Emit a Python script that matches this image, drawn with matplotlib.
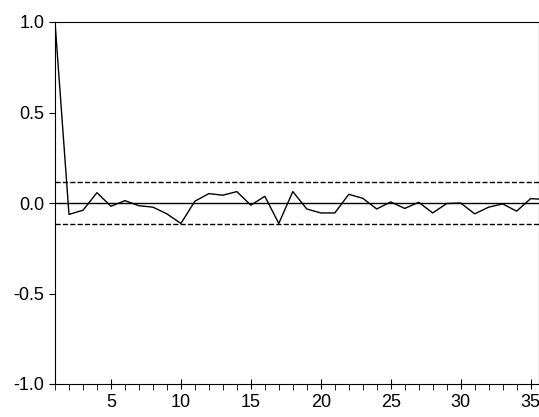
import numpy as np
import matplotlib.pyplot as plt
from matplotlib.ticker import MultipleLocator

plt.rcParams['font.family'] = ['Liberation Sans', 'DejaVu Sans']

lags = np.arange(1, 37)
acf = [1.0, -0.063, -0.04, 0.057, -0.018, 0.013, -0.015, -0.023, -0.06, -0.113,
       0.01, 0.052, 0.043, 0.063, -0.012, 0.037, -0.113, 0.063, -0.033, -0.055,
       -0.055, 0.048, 0.026, -0.033, 0.006, -0.03, 0.004, -0.055, -0.003, 0.0,
       -0.06, -0.023, -0.005, -0.045, 0.024, 0.02]
band = 0.115

fig = plt.figure(figsize=(5.39, 4.17), dpi=100)
ax = fig.add_axes([55/539, 1-384/417, 1-55/539, 362/417])
ax.plot(lags, acf, '-', color='black', lw=1)
ax.axhline(0, color='black', lw=1)
ax.axhline(band, color='black', lw=1, ls='--')
ax.axhline(-band, color='black', lw=1, ls='--')
ax.set_xlim(1, 35.6)
ax.set_ylim(-1, 1)
ax.xaxis.set_major_locator(MultipleLocator(5))
ax.xaxis.set_minor_locator(MultipleLocator(1))
ax.yaxis.set_major_locator(MultipleLocator(0.5))
ax.set_yticklabels([f'{v:.1f}' for v in ax.get_yticks()])
ax.tick_params(labelsize=13)
ax.tick_params(axis='y', direction='out', length=4)
ax.tick_params(axis='x', which='major', direction='inout', length=7)
ax.tick_params(axis='x', which='minor', direction='out', length=4)
fig.savefig('out.png', dpi=100)
